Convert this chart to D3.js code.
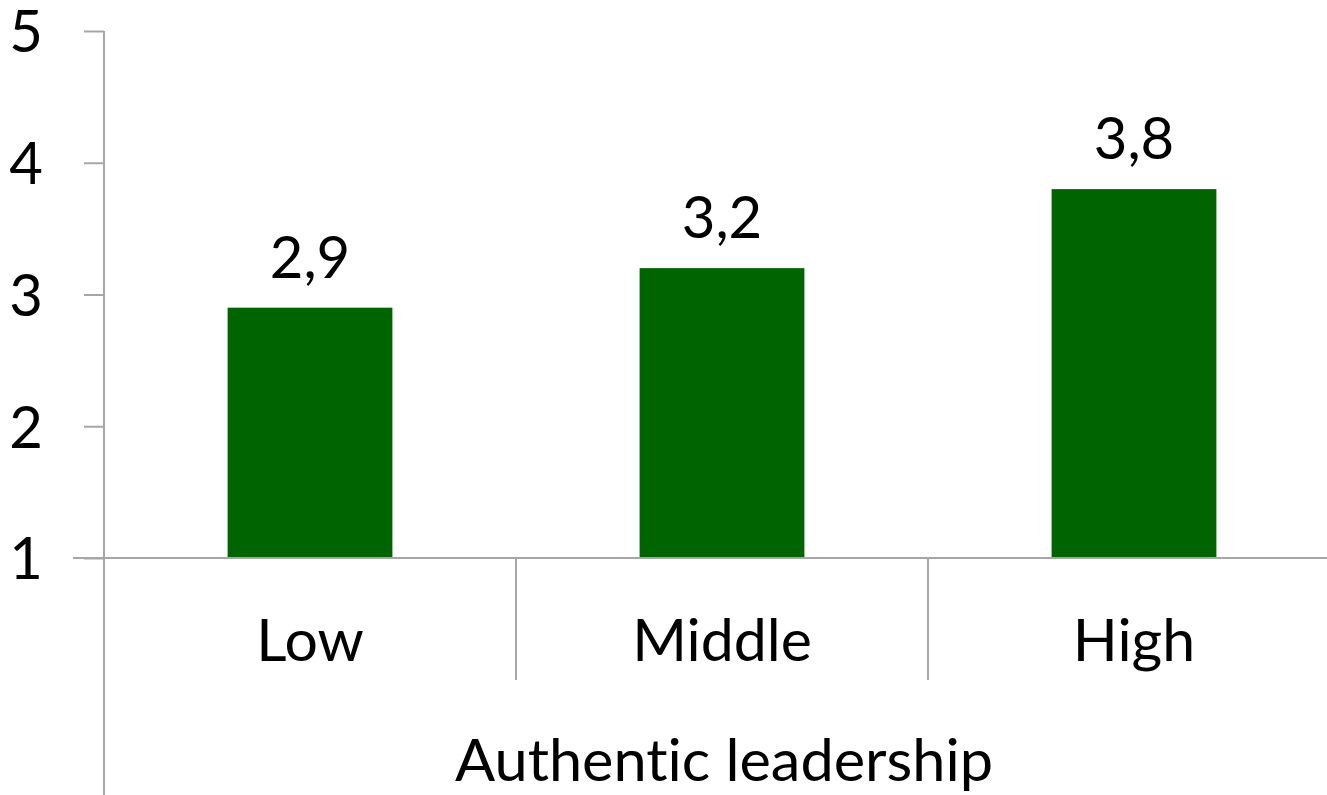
<!DOCTYPE html>
<html>
<head>
<meta charset="utf-8">
<script src="https://cdn.jsdelivr.net/npm/d3@7"></script>
<style>
  html, body { margin: 0; padding: 0; background: #fff; }
  svg { display: block; }
  text { font-family: Lato, "Open Sans", sans-serif; fill: #000; font-variant-ligatures: none; }
</style>
</head>
<body>
<svg id="chart" width="1327" height="795"></svg>
<script>
// Mean scores by level of authentic leadership
const categories = ["Low", "Middle", "High"];
const values = [2.9, 3.2, 3.8];
const valueLabels = ["2,9", "3,2", "3,8"];
const yTicks = [1, 2, 3, 4, 5];
const yTickLabels = ["1", "2", "3", "4", "5"];
const axisTitle = "Authentic leadership";

const svg = d3.select("#chart");
const W = 1327, H = 795;
const plotLeft = 104, plotRight = 1340, plotTop = 31, plotBase = 558;
const axisColor = "#a6a6a6";
const fontSize = 58;

const x = d3.scaleBand()
  .domain(categories)
  .range([plotLeft, plotRight])
  .paddingInner(0.6)
  .paddingOuter(0.3);

const y = d3.scaleLinear().domain([1, 5]).range([plotBase, plotTop]);

// value axis
const yAxis = d3.axisLeft(y)
  .tickValues(yTicks)
  .tickFormat((d, i) => yTickLabels[i])
  .tickSize(20)
  .tickPadding(41);

const gy = svg.append("g").attr("transform", `translate(${plotLeft},0)`).call(yAxis);
gy.select(".domain").remove();
gy.selectAll(".tick line").attr("stroke", axisColor).attr("stroke-width", 2);
gy.selectAll(".tick text")
  .attr("font-size", fontSize)
  .attr("dy", "0.36em")
  .style("font-family", "Lato, 'Open Sans', sans-serif");

// vertical axis line, running down past the category area
svg.append("line")
  .attr("x1", plotLeft).attr("x2", plotLeft)
  .attr("y1", plotTop).attr("y2", H)
  .attr("stroke", axisColor).attr("stroke-width", 2);

// bars
svg.append("g").selectAll("rect")
  .data(values)
  .join("rect")
  .attr("x", (d, i) => x(categories[i]))
  .attr("width", x.bandwidth())
  .attr("y", d => y(d))
  .attr("height", d => y(1) - y(d))
  .attr("fill", "#006400");

// category axis line
svg.append("line")
  .attr("x1", 73).attr("x2", W)
  .attr("y1", plotBase).attr("y2", plotBase)
  .attr("stroke", axisColor).attr("stroke-width", 2);

// category separators
const step = x.step();
const bounds = categories.map((c, i) => plotLeft + i * step).slice(1);
svg.append("g").selectAll("line")
  .data(bounds)
  .join("line")
  .attr("x1", d => d).attr("x2", d => d)
  .attr("y1", plotBase).attr("y2", 680)
  .attr("stroke", axisColor).attr("stroke-width", 2);

// category labels
svg.append("g").selectAll("text")
  .data(categories)
  .join("text")
  .attr("x", d => x(d) + x.bandwidth() / 2)
  .attr("y", 661)
  .attr("text-anchor", "middle")
  .attr("font-size", fontSize + 1)
  .text(d => d);

// value labels
svg.append("g").selectAll("text")
  .data(values)
  .join("text")
  .attr("x", (d, i) => x(categories[i]) + x.bandwidth() / 2)
  .attr("y", d => y(d) - 30)
  .attr("text-anchor", "middle")
  .attr("font-size", fontSize)
  .text((d, i) => valueLabels[i]);

// axis title
svg.append("text")
  .attr("x", 724)
  .attr("y", 781)
  .attr("text-anchor", "middle")
  .attr("font-size", fontSize + 1)
  .attr("textLength", 538)
  .attr("lengthAdjust", "spacingAndGlyphs")
  .text(axisTitle);
</script>
</body>
</html>
